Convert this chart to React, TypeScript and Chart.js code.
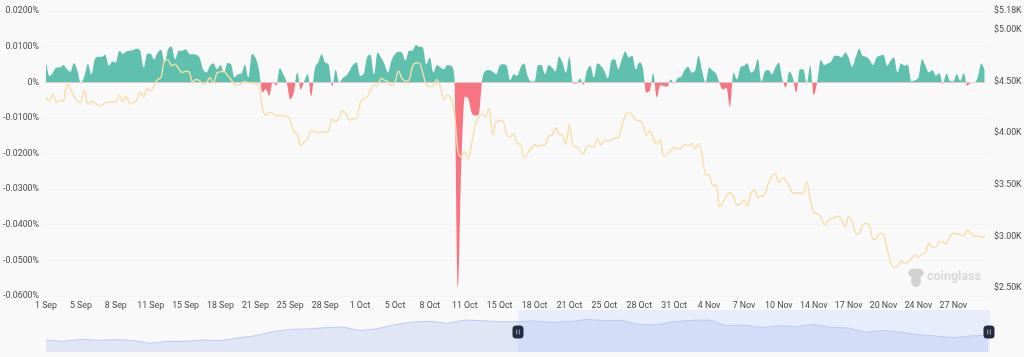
import React, { useEffect, useRef } from "react";
import { Chart, registerables } from "chart.js";

Chart.register(...registerables);

const tickLabels = ["1 Sep","5 Sep","8 Sep","11 Sep","15 Sep","18 Sep","21 Sep","25 Sep","28 Sep","1 Oct","5 Oct","8 Oct","11 Oct","15 Oct","18 Oct","21 Oct","25 Oct","28 Oct","31 Oct","4 Nov","7 Nov","10 Nov","14 Nov","17 Nov","20 Nov","24 Nov","27 Nov"];
const priceTicks = [5.18, 5, 4.5, 4, 3.5, 3, 2.5];

// funding rate, in units of 0.0001 %, one value per 8 hours
const fundingRate = [55,18,28,42,42,49,37,30,55,33,-2,18,52,23,65,72,72,78,47,59,56,89,80,87,89,91,95,89,42,81,81,65,84,92,56,93,100,65,89,89,93,81,79,78,
70,37,28,47,54,37,49,28,55,52,14,23,25,50,14,80,70,37,-28,-19,-37,3,-9,40,23,0,-47,-28,28,-20,4,23,-39,37,56,79,56,50,-11,36,0,12,19,33,50,56,
19,23,70,78,23,84,70,51,28,61,79,86,84,61,89,89,105,100,98,51,70,28,49,42,37,49,47,20,-575,-230,-40,-45,-85,-93,-90,8,33,35,30,23,47,51,47,7,23,19,
42,53,19,3,3,49,49,23,49,42,31,73,56,28,73,-2,-3,11,-6,33,47,14,54,47,33,12,61,65,37,65,87,70,75,37,56,42,-28,-23,26,-42,-8,-10,-12,8,-3,12,
16,35,44,28,33,75,33,0,42,33,25,-2,-20,-15,-68,28,9,42,47,54,28,35,65,3,31,35,23,42,56,9,-14,31,14,-28,37,37,-3,47,-35,3,63,49,53,59,75,75,
70,84,70,44,70,95,75,72,63,49,70,75,78,47,61,70,28,54,47,49,3,7,14,65,47,28,35,19,26,-4,25,5,3,23,5,26,-9,-1,-1,14,53,35];

// ETH price in thousands of dollars, one value per 8 hours
const ethPrice = [4.336,4.30,4.365,4.287,4.31,4.30,4.461,4.423,4.349,4.30,4.29,4.407,4.268,4.294,4.287,4.258,4.262,4.284,4.29,4.294,4.29,4.358,4.294,4.349,4.271,4.287,4.31,4.39,4.342,4.423,4.40,4.455,4.51,4.535,4.697,4.697,4.642,4.658,4.616,4.577,4.59,4.584,4.487,4.51,
4.497,4.461,4.48,4.529,4.477,4.574,4.584,4.59,4.552,4.51,4.465,4.455,4.471,4.49,4.477,4.477,4.471,4.455,4.229,4.165,4.19,4.18,4.155,4.165,4.155,4.155,4.116,4.004,3.98,3.865,3.907,3.94,4.02,4.004,3.997,4.004,3.997,4.013,4.126,4.10,4.142,4.207,4.174,4.116,4.13,4.133,
4.278,4.326,4.342,4.407,4.455,4.445,4.52,4.503,4.487,4.448,4.487,4.59,4.52,4.494,4.503,4.632,4.671,4.671,4.568,4.455,4.439,4.455,4.51,4.439,4.31,4.358,4.326,4.197,3.826,3.762,3.81,3.74,3.89,4.068,4.149,4.174,4.149,4.229,3.971,4.10,4.11,4.107,3.971,3.955,3.988,3.891,
3.884,3.746,3.794,3.842,3.881,3.865,3.875,3.872,3.962,3.971,4.042,3.981,3.971,3.884,4.075,3.865,3.859,3.826,3.788,3.872,3.865,3.852,3.936,3.875,3.923,3.917,3.923,3.942,3.949,4.052,4.165,4.191,4.165,4.116,4.11,4.084,3.971,4.013,3.939,3.884,3.93,3.762,3.788,3.826,3.852,3.839,
3.842,3.884,3.865,3.891,3.842,3.891,3.778,3.585,3.591,3.482,3.494,3.278,3.32,3.391,3.414,3.375,3.295,3.304,3.343,3.288,3.407,3.44,3.369,3.382,3.401,3.504,3.575,3.598,3.51,3.559,3.536,3.472,3.407,3.414,3.414,3.401,3.52,3.343,3.22,3.208,3.188,3.101,3.14,3.164,3.169,3.188,
3.15,3.079,3.182,3.133,3.027,3.014,3.101,3.117,3.092,2.963,2.972,3.021,3.005,2.876,2.737,2.692,2.698,2.756,2.731,2.737,2.779,2.811,2.789,2.821,2.834,2.924,2.885,2.885,2.943,2.937,2.918,2.988,3.021,3.014,3.005,2.995,3.053,3.021,2.995,2.995,2.982,2.988];

// overview strip, sampled every 40 hours
const overviewPrice = [1200,1067,1267,1167,1233,1133,867,1067,1067,1200,1133,1400,1633,2033,2267,2300,2433,2500,2133,2333,2733,3000,3067,2867,3200,3133,3033,
3033,3100,2967,3033,3267,3133,3167,2733,2700,3033,3167,3200,2633,2700,2433,2633,2533,2767,2467,2400,1967,2167,1967,1733,1600,1433,1600,1700];

const BG = "#f9f9f9";
const FONT = "Roboto, sans-serif";
const TEXT = "#4a4a4a";

const watermark = {
  id: "watermark",
  afterDraw(chart: any) {
    const c = chart.ctx;
    c.save();
    c.fillStyle = "#d2d2d2";
    c.beginPath();
    c.ellipse(916, 273, 8, 4.5, 0, 0, Math.PI * 2);
    c.ellipse(916, 280, 5, 7, 0, 0, Math.PI * 2);
    c.fill();
    c.font = "bold 12.5px " + FONT;
    c.textBaseline = "middle";
    c.fillStyle = "#d8d8d8";
    c.fillText("coinglass", 927, 277);
    c.restore();
  },
};

const selection = {
  id: "selection",
  beforeDatasetsDraw(chart: any) {
    const { ctx: c, chartArea: a, scales } = chart;
    const x0 = scales.x.getPixelForValue(27.05);
    c.save();
    c.fillStyle = "#e8edfb";
    c.fillRect(x0, a.top, a.right - x0, a.bottom - a.top);
    c.restore();
  },
  afterDatasetsDraw(chart: any) {
    const { ctx: c, chartArea: a, scales } = chart;
    const xs = [scales.x.getPixelForValue(27.05), a.right - 1];
    const ym = a.top + 22;
    c.save();
    xs.forEach((x: number) => {
      c.fillStyle = "#262c3f";
      c.beginPath();
      c.roundRect(x - 5.5, ym - 6.5, 11, 13, 3.5);
      c.fill();
      c.fillStyle = "#8a90a0";
      c.fillRect(x - 2, ym - 2.5, 1.2, 5);
      c.fillRect(x + 0.8, ym - 2.5, 1.2, 5);
    });
    c.restore();
  },
};

export default function App() {
  const mainRef = useRef<HTMLCanvasElement>(null);
  const ovRef = useRef<HTMLCanvasElement>(null);

  useEffect(() => {
    const main = new Chart(mainRef.current!, {
      type: "line",
      data: {
        datasets: [
          {
            label: "Price",
            data: ethPrice.map((v, i) => ({ x: i, y: v })),
            yAxisID: "yPrice",
            borderColor: "#f9dda6",
            borderWidth: 1.4,
            pointRadius: 0,
            cubicInterpolationMode: "monotone",
            fill: false,
          },
          {
            label: "Funding rate",
            data: fundingRate.map((v, i) => ({ x: i, y: v / 10000 })),
            yAxisID: "yRate",
            borderWidth: 0,
            borderColor: "transparent",
            pointRadius: 0,
            cubicInterpolationMode: "monotone",
            fill: { target: { value: 0 }, above: "#5fc1ad", below: "#f87480" },
          },
        ],
      },
      options: {
        responsive: false,
        animation: false,
        layout: { padding: { top: 11, left: 0, right: 0, bottom: 0 } },
        plugins: { legend: { display: false }, tooltip: { enabled: false } },
        scales: {
          x: {
            type: "linear",
            min: -0.57,
            max: 269.93,
            border: { display: false },
            grid: { display: false, drawTicks: false, tickLength: 0 },
            afterBuildTicks: (axis: any) => {
              axis.ticks = tickLabels.map((_, i) => ({ value: i * 10 }));
            },
            afterFit: (axis: any) => { axis.height = 20; },
            ticks: {
              autoSkip: false,
              maxRotation: 0,
              padding: 5,
              color: TEXT,
              font: { family: FONT, size: 8.8 },
              callback: (v: any) => tickLabels[Math.round(v / 10)],
            },
          },
          yRate: {
            position: "left",
            min: -0.06,
            max: 0.02,
            border: { display: false },
            grid: { color: "#f4f4f4", drawTicks: false },
            afterFit: (axis: any) => { axis.width = 44; },
            afterBuildTicks: (axis: any) => {
              axis.ticks = [0.02, 0.01, 0, -0.01, -0.02, -0.03, -0.04, -0.05, -0.06].map((value) => ({ value }));
            },
            ticks: {
              padding: 5,
              color: TEXT,
              font: { family: FONT, size: 8.8 },
              callback: (v: any) => (v === 0 ? "0%" : v.toFixed(4) + "%"),
            },
          },
          yPrice: {
            position: "right",
            min: 2.414,
            max: 5.17,
            border: { display: false },
            grid: { display: false, drawTicks: false },
            afterFit: (axis: any) => { axis.width = 36; },
            afterBuildTicks: (axis: any) => {
              axis.ticks = priceTicks.map((value) => ({ value }));
            },
            ticks: {
              padding: 6,
              labelOffset: 1,
              color: TEXT,
              font: { family: FONT, size: 8.8 },
              callback: (v: any) => "$" + v.toFixed(2) + "K",
            },
          },
        },
      },
      plugins: [watermark],
    } as any);

    const overview = new Chart(ovRef.current!, {
      type: "line",
      data: {
        datasets: [
          {
            label: "Overview",
            data: overviewPrice.map((v, i) => ({ x: i, y: v })),
            borderColor: "#bccbf1",
            borderWidth: 1,
            pointRadius: 0,
            tension: 0,
            fill: { target: "origin", above: "rgba(140,165,235,0.22)" },
          },
        ],
      },
      options: {
        responsive: false,
        animation: false,
        layout: { padding: { top: 3, left: 46, right: 34, bottom: 5 } },
        plugins: { legend: { display: false }, tooltip: { enabled: false } },
        scales: {
          x: { type: "linear", min: 0, max: 54.1, display: false },
          y: { min: 0, max: 4200, display: false },
        },
      },
      plugins: [selection],
    } as any);

    return () => {
      main.destroy();
      overview.destroy();
    };
  }, []);

  return (
    <div style={{ position: "fixed", left: 0, top: 0, width: 1024, height: 357, background: BG, overflow: "hidden", filter: "blur(0.35px)" }}>
      <canvas ref={mainRef} width={1024} height={316} style={{ position: "absolute", left: 0, top: 0, width: 1024, height: 316 }} />
      <canvas ref={ovRef} width={1024} height={50} style={{ position: "absolute", left: 0, top: 307, width: 1024, height: 50 }} />
    </div>
  );
}
